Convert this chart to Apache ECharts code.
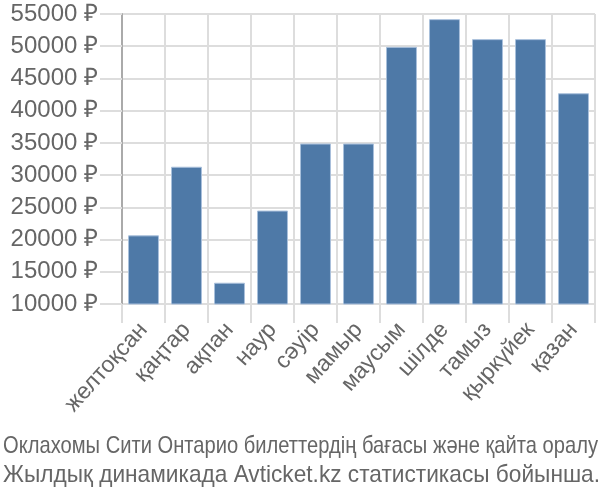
<!DOCTYPE html>
<html><head><meta charset="utf-8">
<script src="https://cdn.jsdelivr.net/npm/echarts@6/dist/echarts.min.js"></script>
<style>html,body{margin:0;padding:0;background:#fff}#c{width:600px;height:500px}</style>
</head><body><div id="c"></div>
<script>
const categories = ["желтоқсан","қаңтар","ақпан","наур","сәуір","мамыр","маусым","шілде","тамыз","қыркүйек","қазан"];
const prices = [20650, 31300, 13300, 24500, 34900, 34900, 49900, 54200, 51100, 51100, 42700];
const yTicks = {min: 10000, max: 55000, interval: 5000};
const captionLines = ["Оклахомы Сити Онтарио билеттердің бағасы және қайта оралу", "Жылдық динамикада Avticket.kz статистикасы бойынша."];

const captionFont = '24px "Liberation Sans"';
const mctx = document.createElement('canvas').getContext('2d');
mctx.font = captionFont;
const captionWidths = [595, 597];
const captionCenters = [446.5, 475];
const captionGraphics = captionLines.map((t, i) => ({
  type: 'text', x: 3, y: captionCenters[i],
  scaleX: captionWidths[i] / mctx.measureText(t).width,
  style: {text: t, x: 0, y: 0, font: captionFont, fill: '#666', align: 'left', verticalAlign: 'middle'}
}));

const chart = echarts.init(document.getElementById('c'), null, {renderer: 'canvas'});
chart.setOption({
  animation: false,
  graphic: captionGraphics,
  grid: {left: 122, right: 5, top: 14, bottom: 196, containLabel: false},
  xAxis: {
    type: 'category', data: categories, boundaryGap: true,
    axisLine: {show: true, lineStyle: {color: '#ddd', width: 1}},
    axisTick: {show: true, length: 19, lineStyle: {color: '#ddd', width: 2}},
    splitLine: {show: true, lineStyle: {color: '#ddd', width: 2}},
    axisLabel: {rotate: 48, color: '#666', fontSize: 23, fontFamily: 'Liberation Sans', margin: 22, interval: 0}
  },
  yAxis: {
    type: 'value', min: yTicks.min, max: yTicks.max, interval: yTicks.interval,
    axisLine: {show: true, lineStyle: {color: '#aaa', width: 2}},
    axisTick: {show: true, length: 22, lineStyle: {color: '#ddd', width: 2}},
    splitLine: {show: true, lineStyle: {color: '#ddd', width: 2}},
    axisLabel: {color: '#666', fontSize: 24, fontFamily: 'Liberation Sans', margin: 24, formatter: v => v + ' ₽'}
  },
  series: [{
    type: 'bar', data: prices, barWidth: '72%',
    itemStyle: {color: '#4e79a7', borderColor: '#a9c0dc', borderWidth: 1}
  }]
});
</script></body></html>
